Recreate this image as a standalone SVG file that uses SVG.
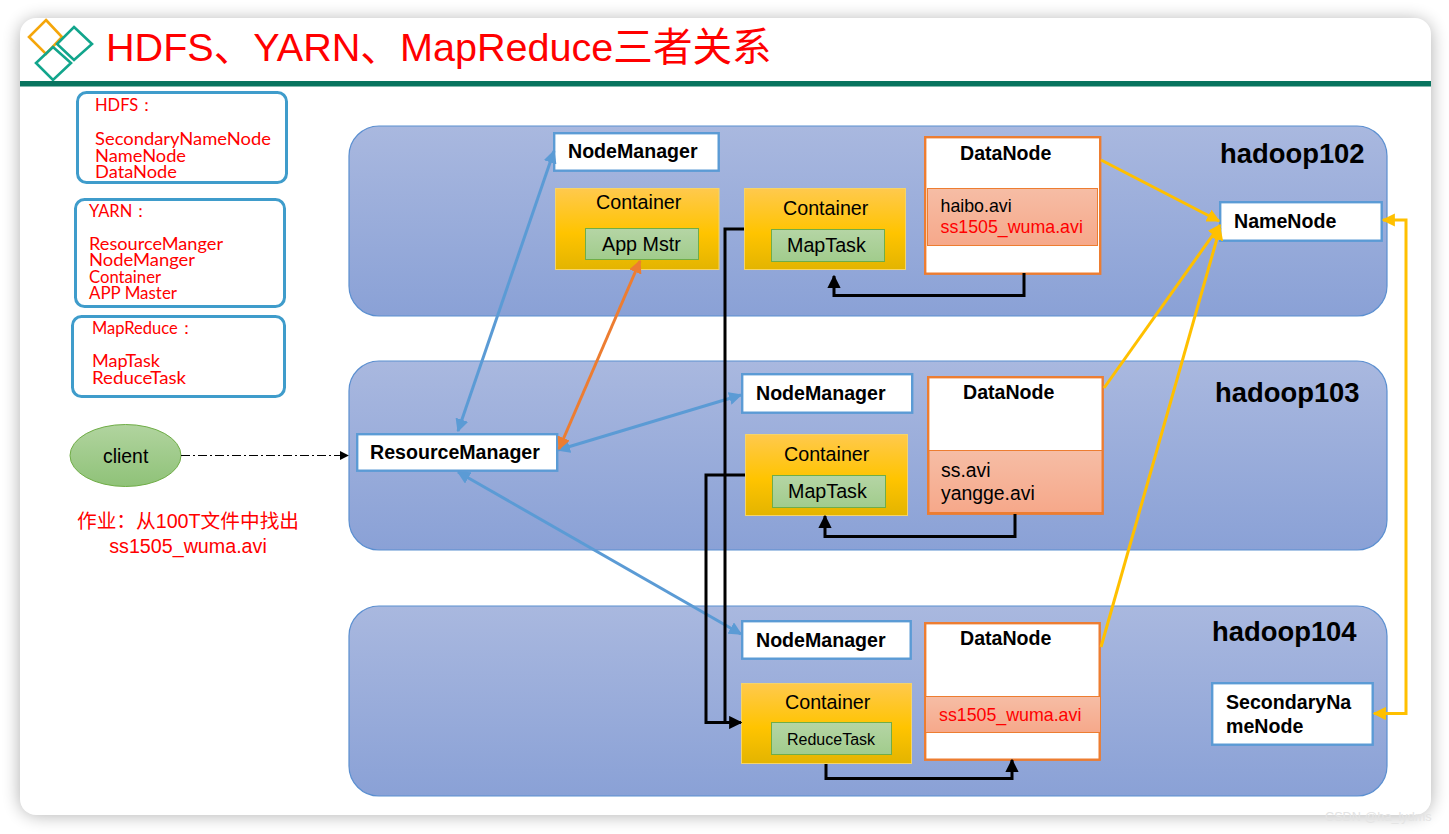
<svg xmlns="http://www.w3.org/2000/svg" width="1449" height="834" viewBox="0 0 1449 834">
<style>
text{font-family:"Liberation Sans","Noto Sans CJK SC",sans-serif}
.host{stroke:#5b8fd0;stroke-width:1.2;fill:url(#hostG)}
.cont{fill:url(#contG);stroke:#f5d469;stroke-width:1}
.task{fill:url(#taskG);stroke:#70ad47;stroke-width:1}
.nm{fill:#fff;stroke:#5b9bd5;stroke-width:2.4}
.dn{fill:#fff;stroke:#ed7d31;stroke-width:2.4}
.file{fill:url(#fileG);stroke:#ed7d31;stroke-width:1}
.leg{fill:#fff;stroke:#3f9ccb;stroke-width:3}
.b{font-weight:bold;font-size:19.600px;fill:#000}
.t{font-size:19.700px;fill:#000}
.f{font-size:17.800px;fill:#000}
.r{fill:#f00}
.h{font-weight:bold;font-size:27.400px;fill:#000}
.lg{font-family:Lato,"Liberation Sans",sans-serif;font-size:16.500px;fill:#f00}
.blk{fill:none;stroke:#000;stroke-width:3}
.yel{fill:none;stroke:#ffc000;stroke-width:3}
.blu{fill:none;stroke:#5b9bd5;stroke-width:3}
</style>
<defs>
<linearGradient id="hostG" x1="0" y1="0" x2="0" y2="1"><stop offset="0" stop-color="#a9b8df"/><stop offset="1" stop-color="#8aa1d6"/></linearGradient>
<linearGradient id="contG" x1="0" y1="0" x2="0" y2="1"><stop offset="0" stop-color="#ffc94d"/><stop offset=".55" stop-color="#ffc400"/><stop offset="1" stop-color="#e3b400"/></linearGradient>
<linearGradient id="taskG" x1="0" y1="0" x2="0" y2="1"><stop offset="0" stop-color="#b5d5a5"/><stop offset="1" stop-color="#a1cc8c"/></linearGradient>
<linearGradient id="fileG" x1="0" y1="0" x2="0" y2="1"><stop offset="0" stop-color="#f6bda5"/><stop offset="1" stop-color="#f6a88a"/></linearGradient>
<linearGradient id="cliG" x1="0" y1="0" x2="0" y2="1"><stop offset="0" stop-color="#b1d49f"/><stop offset="1" stop-color="#8fc278"/></linearGradient>
<filter id="sh" x="-5%" y="-5%" width="110%" height="110%"><feGaussianBlur stdDeviation="9"/></filter>
<marker id="mK" viewBox="0 0 10 10" refX="9" refY="5" markerWidth="4.400" markerHeight="4.400" orient="auto-start-reverse"><path d="M0 0L10 5L0 10z" fill="#000"/></marker>
<marker id="mY" viewBox="0 0 10 10" refX="9" refY="5" markerWidth="4.400" markerHeight="4.400" orient="auto-start-reverse"><path d="M0 0L10 5L0 10z" fill="#ffc000"/></marker>
<marker id="mB" viewBox="0 0 10 10" refX="9" refY="5" markerWidth="4.400" markerHeight="4.400" orient="auto-start-reverse"><path d="M0 0L10 5L0 10z" fill="#5b9bd5"/></marker>
<marker id="mO" viewBox="0 0 10 10" refX="9" refY="5" markerWidth="4.400" markerHeight="4.400" orient="auto-start-reverse"><path d="M0 0L10 5L0 10z" fill="#ed7d31"/></marker>
<marker id="mT" viewBox="0 0 10 10" refX="9" refY="5" markerWidth="9" markerHeight="9" orient="auto"><path d="M0 0L10 5L0 10z" fill="#000"/></marker>
</defs>
<rect width="1449" height="834" fill="#fff"/>
<rect x="20" y="20" width="1411" height="795" rx="18" fill="#000" opacity=".32" filter="url(#sh)"/>
<rect x="20" y="18" width="1411" height="797" rx="16" fill="#fff"/>

<g id="title">
<g fill="none" stroke-width="2.600">
<path d="M46 20L62 37L46 54L29 37z" stroke="#f5a60a"/>
<path d="M74 27L92 44L74 60L57 44z" stroke="#12a58c"/>
<path d="M53 47L71 63L53 80L36 63z" stroke="#12a58c"/>
</g>
<rect x="20" y="81" width="1411" height="5.500" fill="#08745f"/>
<text x="106" y="61" font-size="39.600" fill="#f00">HDFS、YARN、MapReduce三者关系</text>
</g>

<g id="legend-hdfs">
<rect class="leg" x="77.500" y="92.500" width="209" height="90" rx="9"/>
<text class="lg" x="95" y="111">HDFS：</text>
<text class="lg" x="95" y="145" textLength="176" lengthAdjust="spacingAndGlyphs">SecondaryNameNode</text>
<text class="lg" x="95" y="161.500" textLength="91" lengthAdjust="spacingAndGlyphs">NameNode</text>
<text class="lg" x="95" y="178" textLength="82" lengthAdjust="spacingAndGlyphs">DataNode</text>
</g>
<g id="legend-yarn">
<rect class="leg" x="75.500" y="199.500" width="209" height="107" rx="9"/>
<text class="lg" x="89" y="216.500">YARN：</text>
<text class="lg" x="89" y="249.500" textLength="134" lengthAdjust="spacingAndGlyphs">ResourceManger</text>
<text class="lg" x="89" y="266" textLength="106" lengthAdjust="spacingAndGlyphs">NodeManger</text>
<text class="lg" x="89" y="282.500" textLength="72" lengthAdjust="spacingAndGlyphs">Container</text>
<text class="lg" x="89" y="299" textLength="88" lengthAdjust="spacingAndGlyphs">APP Master</text>
</g>
<g id="legend-mr">
<rect class="leg" x="72.500" y="316.500" width="212" height="80" rx="9"/>
<text class="lg" x="92" y="334">MapReduce：</text>
<text class="lg" x="92" y="367" textLength="68" lengthAdjust="spacingAndGlyphs">MapTask</text>
<text class="lg" x="92" y="384" textLength="94" lengthAdjust="spacingAndGlyphs">ReduceTask</text>
</g>

<g id="hadoop102"><rect class="host" x="349" y="126" width="1038" height="190" rx="30"/><text class="h" x="1220" y="163">hadoop102</text></g>
<g id="hadoop103"><rect class="host" x="349" y="361" width="1038" height="189" rx="30"/><text class="h" x="1215" y="402">hadoop103</text></g>
<g id="hadoop104"><rect class="host" x="349" y="606" width="1038" height="190" rx="30"/><text class="h" x="1212" y="641">hadoop104</text></g>

<g id="client">
<ellipse cx="125.500" cy="455.500" rx="55.500" ry="31" fill="url(#cliG)" stroke="#70ad47"/>
<text x="103" y="463" font-size="19.400">client</text>
</g>
<g id="homework">
<text x="188" y="528" font-size="19.700" fill="#f00" text-anchor="middle">作业：从100T文件中找出</text>
<text x="188" y="553" font-size="19.700" fill="#f00" text-anchor="middle">ss1505_wuma.avi</text>
</g>

<g id="resourcemanager"><rect class="nm" x="357.200" y="434.200" width="200" height="36.500"/><text class="b" x="370" y="459">ResourceManager</text></g>

<g id="nm102"><rect class="nm" x="554.200" y="133.200" width="164.500" height="37.500"/><text class="b" x="568" y="158">NodeManager</text></g>
<g id="c102a"><rect class="cont" x="555.500" y="188.500" width="163.500" height="81"/><text class="t" x="596" y="209">Container</text><rect class="task" x="585.500" y="228.500" width="113" height="31"/><text class="t" x="602" y="251">App Mstr</text></g>
<g id="c102b"><rect class="cont" x="744.500" y="188.500" width="161" height="81"/><text class="t" x="783" y="215">Container</text><rect class="task" x="771.500" y="229.500" width="113" height="32"/><text class="t" x="787" y="252">MapTask</text></g>
<g id="dn102"><rect class="dn" x="925.200" y="137.200" width="175" height="136.500"/><text class="b" x="960" y="160">DataNode</text><rect class="file" x="927.500" y="188.500" width="170" height="57"/><text class="f" x="940.500" y="212">haibo.avi</text><text class="f r" x="940.500" y="233">ss1505_wuma.avi</text></g>

<g id="nm103"><rect class="nm" x="742.200" y="374.200" width="170" height="38.500"/><text class="b" x="756" y="400">NodeManager</text></g>
<g id="c103"><rect class="cont" x="745.500" y="434.500" width="162" height="81"/><text class="t" x="784" y="461">Container</text><rect class="task" x="772.500" y="475.500" width="113" height="32"/><text class="t" x="788" y="498">MapTask</text></g>
<g id="dn103"><rect class="dn" x="928.200" y="377.200" width="174.500" height="136.500"/><rect class="file" x="929" y="450.500" width="173" height="62"/><text class="b" x="963" y="399">DataNode</text><text x="941" y="477" font-size="19.400">ss.avi</text><text x="941" y="500" font-size="19.400">yangge.avi</text></g>

<g id="nm104"><rect class="nm" x="742.200" y="621.200" width="168.500" height="37.500"/><text class="b" x="756" y="647">NodeManager</text></g>
<g id="c104"><rect class="cont" x="741.500" y="683.500" width="170" height="80"/><text class="t" x="785" y="709">Container</text><rect class="task" x="771.500" y="722.500" width="120" height="32"/><text x="787" y="744.500" font-size="16">ReduceTask</text></g>
<g id="dn104"><rect class="dn" x="925.200" y="623.200" width="174.500" height="136.500"/><rect class="file" x="925.500" y="696.500" width="175" height="36"/><text class="b" x="960" y="645">DataNode</text><text class="f r" x="939" y="721">ss1505_wuma.avi</text></g>

<g id="namenode"><rect class="nm" x="1220.200" y="202.200" width="161.500" height="38.500"/><text class="b" x="1234" y="228">NameNode</text></g>
<g id="secondary"><rect class="nm" x="1212.200" y="683.200" width="160.500" height="61.500"/><text class="b" x="1226" y="709">SecondaryNa</text><text class="b" x="1226" y="733">meNode</text></g>

<g id="connectors">
<path d="M181 455.500H348" fill="none" stroke="#000" stroke-width="1" stroke-dasharray="9 3 2 3" marker-end="url(#mT)"/>
<path class="blu" d="M458 431L554 151" marker-start="url(#mB)" marker-end="url(#mB)"/>
<path class="blu" d="M558 450L741 395" marker-start="url(#mB)" marker-end="url(#mB)"/>
<path class="blu" d="M458 472L741 634" marker-start="url(#mB)" marker-end="url(#mB)"/>
<path d="M559 449L640 261" fill="none" stroke="#ed7d31" stroke-width="3" marker-start="url(#mO)" marker-end="url(#mO)"/>
<path class="blk" d="M1024 273V295.500H834V276" marker-end="url(#mK)"/>
<path class="blk" d="M1015 514V536.500H825V516" marker-end="url(#mK)"/>
<path class="blk" d="M826 764V778.500H1012V760" marker-end="url(#mK)"/>
<path class="blk" d="M744 229H725V722.500H741" marker-end="url(#mK)"/>
<path class="blk" d="M745 475H706V722.500H730"/>
<path class="yel" d="M1101 160L1219 221" marker-end="url(#mY)"/>
<path class="yel" d="M1104 388L1220 225" marker-end="url(#mY)"/>
<path class="yel" d="M1101 647L1220 228" marker-end="url(#mY)"/>
<path class="yel" d="M1383 220H1406V713.500H1374" marker-start="url(#mY)" marker-end="url(#mY)"/>
</g>
<text x="1325" y="821" font-size="12.700" fill="#e4e4e4">CSDN @ha_lydms</text>
</svg>
